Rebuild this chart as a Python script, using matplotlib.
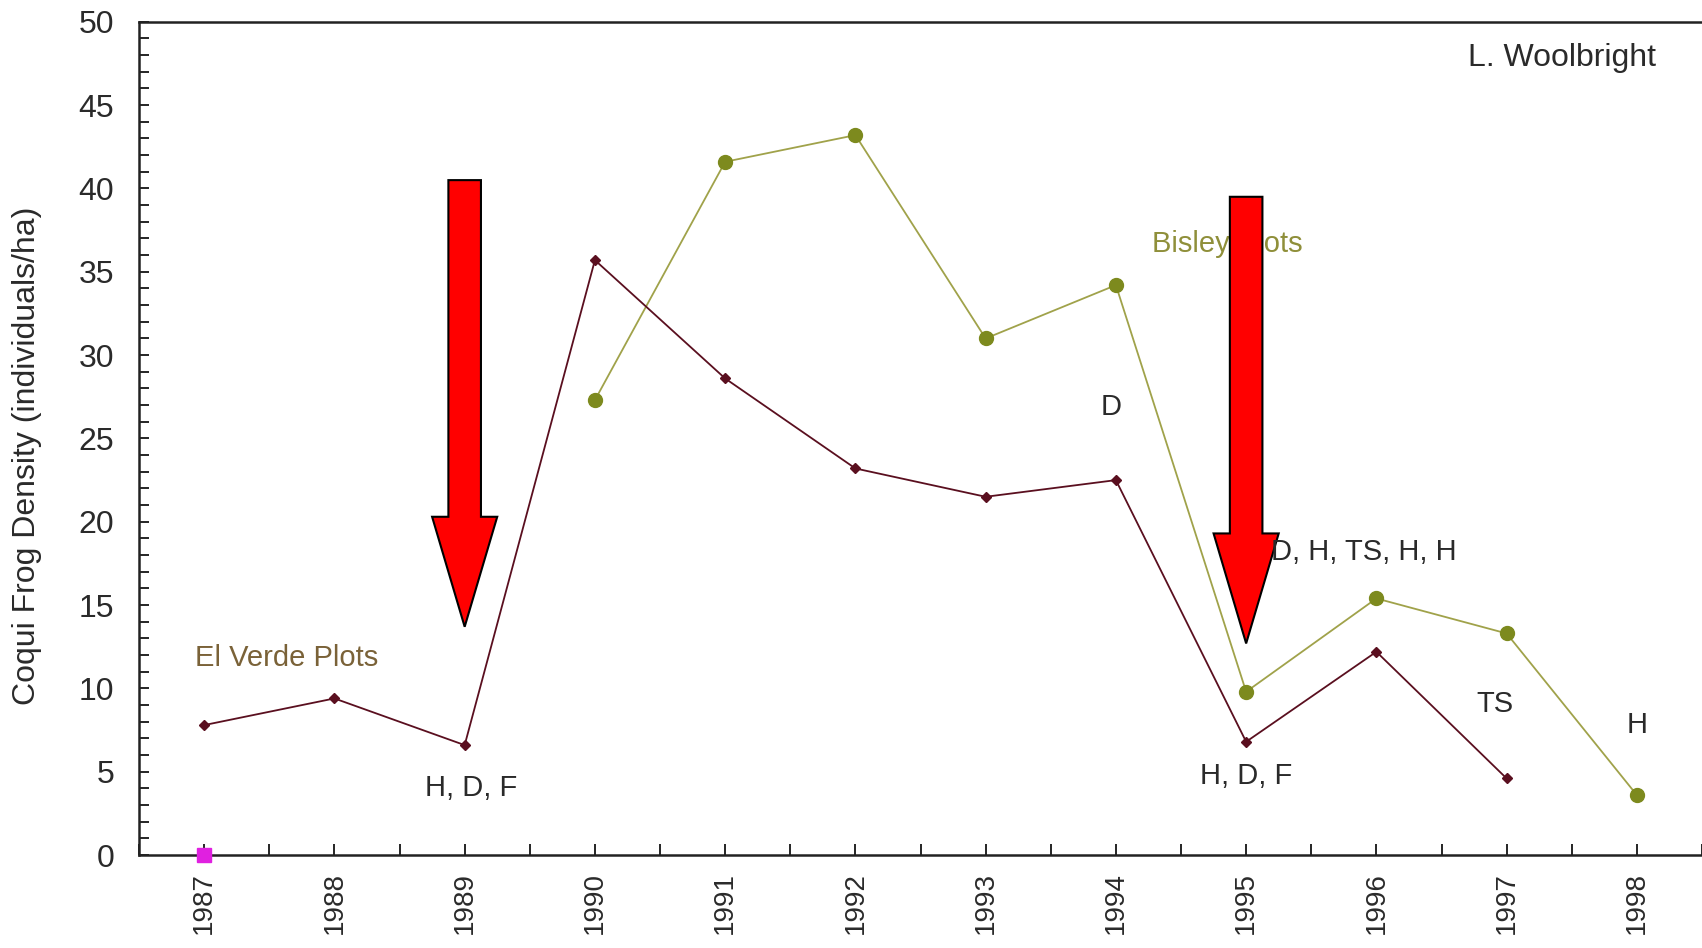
import numpy as np
import matplotlib
matplotlib.use("Agg")
import matplotlib.pyplot as plt
from matplotlib.patches import FancyArrow
from matplotlib.ticker import MultipleLocator

plt.rcParams["font.family"] = ["Liberation Sans", "DejaVu Sans"]

# data
years = [1987, 1988, 1989, 1990, 1991, 1992, 1993, 1994, 1995, 1996, 1997, 1998]
el_verde_years = [1987, 1988, 1989, 1990, 1991, 1992, 1993, 1994, 1995, 1996, 1997]
el_verde = [7.8, 9.4, 6.6, 35.7, 28.6, 23.2, 21.5, 22.5, 6.8, 12.2, 4.6]
bisley_years = [1990, 1991, 1992, 1993, 1994, 1995, 1996, 1997, 1998]
bisley = [27.3, 41.6, 43.2, 31.0, 34.2, 9.8, 15.4, 13.3, 3.6]
marker_year = [1987]
marker_val = [0]

# disturbance notes: (x, y, text, ha)
notes = [
    (1989.05, 4.0, "H, D, F", "center"),
    (1993.96, 26.9, "D", "center"),
    (1995.19, 18.2, "D, H, TS, H, H", "left"),
    (1995.0, 4.75, "H, D, F", "center"),
    (1996.91, 9.05, "TS", "center"),
    (1998.0, 7.8, "H", "center"),
]
# red arrows: (x, top, tip)
arrows = [(1989.0, 40.5, 13.7), (1995.0, 39.5, 12.7)]

MAROON = "#5a0f1f"
OLIVE = "#7d8a1e"
OLIVE_LINE = "#a0a24a"
TXT = "#2a2a2a"

fig = plt.figure(figsize=(17.02, 9.48), dpi=100)
ax = fig.add_axes([0.0817, 0.098, 0.9183, 0.879])

ax.plot(bisley_years, bisley, color=OLIVE_LINE, lw=1.3, marker="o", ms=10,
        mfc=OLIVE, mec=OLIVE, zorder=3)
ax.plot(el_verde_years, el_verde, color=MAROON, lw=1.3, marker="D", ms=5,
        mfc=MAROON, mec=MAROON, zorder=3)
ax.plot(marker_year, marker_val, ls="none", marker="s", ms=10,
        color="#e020e0", clip_on=False, zorder=5)

for x, top, tip in arrows:
    ax.add_patch(FancyArrow(x, top, 0, tip - top, width=0.25, head_width=0.5,
                            head_length=6.6, length_includes_head=True,
                            fc="#ff0000", ec="black", lw=1.5, zorder=4))

for x, y, s, ha in notes:
    ax.text(x, y, s, ha=ha, va="center", fontsize=21, color=TXT, zorder=6)

ax.text(1986.93, 11.85, "El Verde Plots", ha="left", va="center",
        fontsize=21, color="#7a6238")
ax.text(1994.28, 36.65, "Bisley Plots", ha="left", va="center",
        fontsize=21, color="#8f8f3a", zorder=2)
ax.text(1998.15, 47.8, "L. Woolbright", ha="right", va="center",
        fontsize=23, color=TXT)

ax.set_xlim(1986.5, 1998.5)
ax.set_ylim(0, 50)
ax.set_xticks(years)
ax.set_xticklabels([str(y) for y in years], rotation=90, fontsize=20, color=TXT)
ax.xaxis.set_minor_locator(MultipleLocator(0.5))
ax.yaxis.set_major_locator(MultipleLocator(5))
ax.yaxis.set_minor_locator(MultipleLocator(1))
ax.tick_params(axis="y", labelsize=23, labelcolor=TXT, direction="in",
               length=7, width=1.2, pad=18)
ax.tick_params(axis="y", which="minor", direction="in", length=7, width=1.2)
ax.tick_params(axis="x", direction="in", length=8, width=1.2, pad=12)
ax.tick_params(axis="x", which="minor", direction="in", length=8, width=1.2)

ax.spines["right"].set_visible(False)
for s in ("left", "bottom", "top"):
    ax.spines[s].set_linewidth(1.8)
    ax.spines[s].set_color("#222222")

ax.set_ylabel("Coqui Frog Density (individuals/ha)", fontsize=23, color=TXT,
              va="center")
ax.yaxis.set_label_coords(-0.0717, 0.479)

fig.savefig("out.png", dpi=100)
